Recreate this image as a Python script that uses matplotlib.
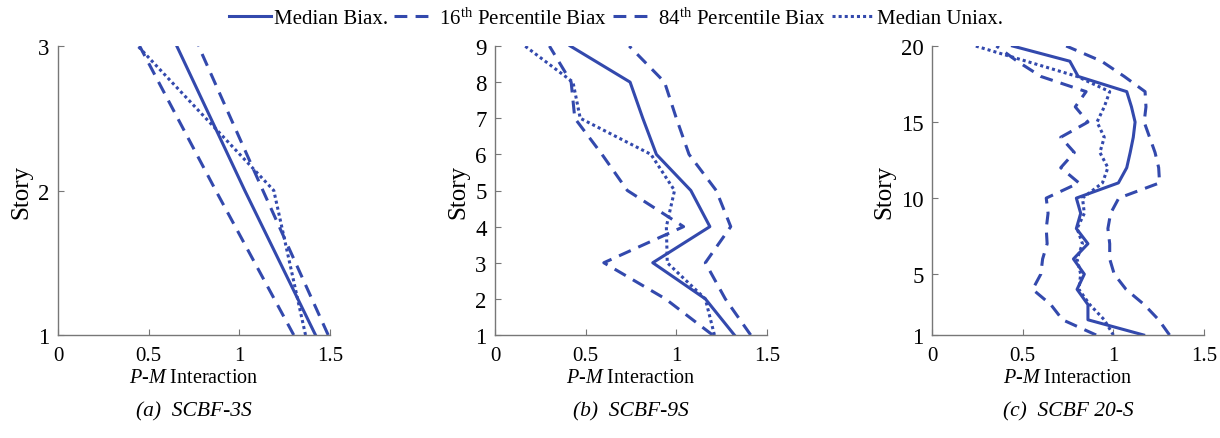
import matplotlib.pyplot as plt

plt.rcParams['font.family'] = 'serif'
plt.rcParams['font.serif'] = ['Liberation Serif', 'DejaVu Serif']
plt.rcParams['mathtext.fontset'] = 'custom'
plt.rcParams['mathtext.rm'] = 'Liberation Serif'
plt.rcParams['mathtext.it'] = 'Liberation Serif:italic'

# story numbers
stories_3 = [1, 2, 3]
stories_9 = [1, 2, 3, 4, 5, 6, 7, 8, 9]
stories_20 = list(range(1, 21))

# SCBF-3S
med_biax_3 = [1.42, 1.03, 0.655]
p16_3 = [1.30, 0.87, 0.45]
p84_3 = [1.49, 1.13, 0.775]
med_uni_3 = [1.365, 1.19, 0.44]

# SCBF-9S
med_biax_9 = [1.32, 1.16, 0.87, 1.185, 1.08, 0.89, 0.815, 0.745, 0.415]
p16_9 = [1.20, 0.94, 0.60, 1.04, 0.73, 0.59, 0.44, 0.42, 0.30]
p84_9 = [1.41, 1.27, 1.16, 1.30, 1.22, 1.07, 1.00, 0.935, 0.74]
med_uni_9 = [1.21, 1.16, 0.95, 0.945, 0.99, 0.86, 0.47, 0.43, 0.165]

# SCBF 20-S
med_biax_20 = [1.167, 0.86, 0.86, 0.80, 0.84, 0.78, 0.86, 0.796, 0.82, 0.796,
               1.028, 1.074, 1.093, 1.11, 1.12, 1.10, 1.074, 0.806, 0.76, 0.444]
p16_20 = [0.905, 0.72, 0.655, 0.555, 0.60, 0.61, 0.635, 0.63, 0.64, 0.63,
          0.81, 0.71, 0.785, 0.71, 0.86, 0.79, 0.85, 0.60, 0.47, 0.355]
p84_20 = [1.31, 1.25, 1.17, 1.07, 1.005, 0.98, 0.98, 0.97, 0.985, 1.03,
          1.255, 1.25, 1.23, 1.20, 1.17, 1.18, 1.175, 1.06, 0.935, 0.74]
med_uni_20 = [1.0, 0.95, 0.87, 0.81, 0.82, 0.80, 0.83, 0.80, 0.84, 0.83,
              0.94, 0.97, 0.926, 0.95, 0.91, 0.95, 0.98, 0.80, 0.52, 0.24]

panels = [
    (stories_3, med_biax_3, p16_3, p84_3, med_uni_3, [1, 2, 3], '(a)  SCBF-3S'),
    (stories_9, med_biax_9, p16_9, p84_9, med_uni_9, stories_9, '(b)  SCBF-9S'),
    (stories_20, med_biax_20, p16_20, p84_20, med_uni_20, [1, 5, 10, 15, 20], '(c)  SCBF 20-S'),
]

blue = '#3349AD'
grey = '#777777'
lw = 2.2
lefts = [58, 495, 932]

fig = plt.figure(figsize=(12.2, 4.39), dpi=100)
handles = None
for left, (st, mb, p16, p84, mu, yt, cap) in zip(lefts, panels):
    ax = fig.add_axes([left / 1220, 103 / 439, 272 / 1220, 289 / 439])
    l1, = ax.plot(mb, st, color=blue, lw=lw, label='Median Biax.')
    l2, = ax.plot(p16, st, color=blue, lw=lw, dashes=(4.2, 2.7),
                  label='16$^{\\rm th}$ Percentile Biax')
    l3, = ax.plot(p84, st, color=blue, lw=lw, dashes=(4.2, 2.7),
                  label='84$^{\\rm th}$ Percentile Biax')
    l4, = ax.plot(mu, st, color=blue, lw=lw, dashes=(1, 1), label='Median Uniax.')
    if handles is None:
        handles = [l1, l2, l3, l4]
    ax.set_xlim(0, 1.5)
    ax.set_ylim(st[0], st[-1])
    ax.set_xticks([0, 0.5, 1, 1.5])
    ax.set_xticklabels(['0', '0.5', '1', '1.5'])
    ax.set_yticks(yt)
    for s in ['top', 'right']:
        ax.spines[s].set_visible(False)
    for s in ['left', 'bottom']:
        ax.spines[s].set_color(grey)
        ax.spines[s].set_linewidth(1.0)
    ax.tick_params(direction='in', length=4, color=grey)
    ax.tick_params(axis='x', pad=8, labelsize=15)
    ax.tick_params(axis='y', pad=6, labelsize=16.5)
    ax.set_ylabel('Story', fontsize=18, labelpad=4)
    ax.set_xlabel('$\\it{P}$-$\\it{M}$ Interaction', fontsize=14.5, labelpad=2)
    cx = (left + 136) / 1220
    fig.text(cx, 27 / 439, cap, fontsize=15.5, style='italic', ha='center', va='center')

fig.legend(handles=handles, loc='center', bbox_to_anchor=(0.505, 0.957), ncol=4,
           frameon=False, fontsize=15, handlelength=2.0, handletextpad=0.15,
           columnspacing=0.3, borderaxespad=0)

fig.savefig('out.png', dpi=100)
